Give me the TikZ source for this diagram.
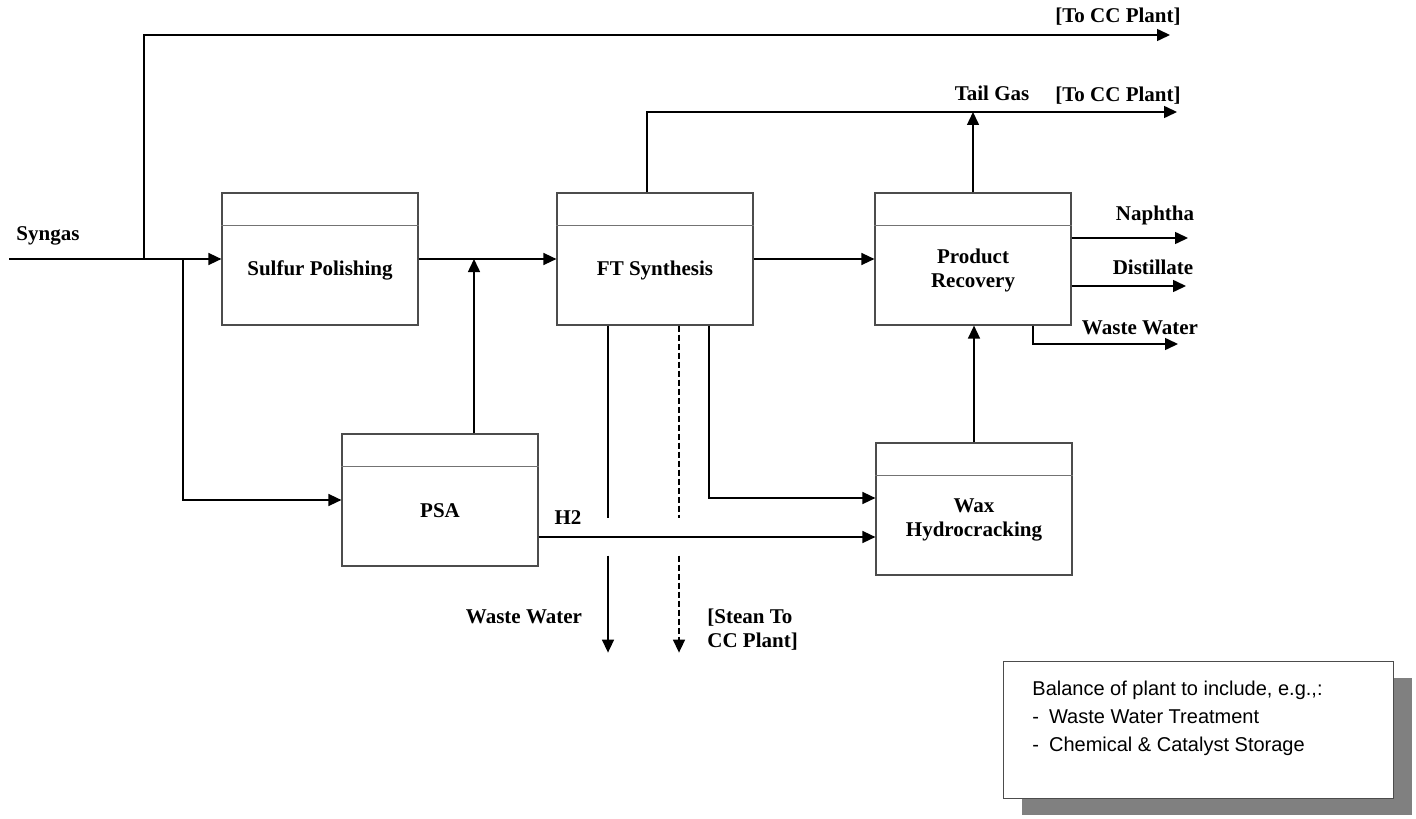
\documentclass[tikz,border=0pt]{standalone}
\usepackage{fontspec}
\setmainfont{Liberation Serif}
\newfontfamily\arialfont{Liberation Sans}
\usetikzlibrary{arrows.meta,shadows}

\begin{document}
\begin{tikzpicture}[x=0.5pt,y=-0.5pt,
    unit/.style={draw=black!70,line width=0.6pt,minimum width=98pt,minimum height=66pt,
      append after command={([yshift=-16.5pt]\tikzlastnode.north west) edge[draw=black!55,line width=0.6pt] ([yshift=-16.5pt]\tikzlastnode.north east)}},
    unittext/.style={font=\fontsize{10.5}{12}\selectfont\bfseries,align=center,yshift=-5.5pt},
    lbl/.style={font=\fontsize{10.5}{12}\selectfont\bfseries,inner sep=0pt},
    pipe/.style={line width=0.75pt},
    flow/.style={pipe,-{Triangle[length=6.5pt,width=6pt]}}]
  \useasboundingbox (0,0) rectangle (1416,818);

  % process units
  \node[unit,label={[unittext]center:Sulfur Polishing}] (sulfur) at (320,259) {};
  \node[unit,label={[unittext]center:FT Synthesis}] (ft) at (655,259) {};
  \node[unit,label={[unittext]center:Product\\Recovery}] (recovery) at (973,259) {};
  \node[unit,label={[unittext]center:PSA}] (psa) at (440,500) {};
  \node[unit,label={[unittext]center:Wax\\Hydrocracking}] (wax) at (974,509) {};

  % free ends
  \coordinate (feed) at (9,259);
  \coordinate (bypass) at (144,259);
  \coordinate (split) at (183,259);
  \coordinate (topcc) at (1170,35);
  \coordinate (tailcc) at (1177,112);
  \coordinate (naphtha) at (1188,238);
  \coordinate (distillate) at (1186,286);
  \coordinate (prwater) at (1178,344);

  % syngas feed
  \draw[pipe] (feed) -- (bypass);
  \draw[flow] (bypass) -- (sulfur.west);
  \draw[flow] (bypass) |- (topcc);
  \draw[flow] (split) |- (psa.west);
  \draw[flow] (sulfur.east) -- (ft.west);
  \draw[flow] (psa.north) ++(34,0) coordinate (h2up) -- (h2up |- sulfur.east);

  % ft synthesis and products
  \draw[flow] (ft.east) -- (recovery.west);
  \draw[flow] ([xshift=-4pt]ft.north) |- (tailcc);
  \draw[flow] (recovery.north) -- (recovery.north |- tailcc);
  \draw[flow] (recovery.east |- naphtha) -- (naphtha);
  \draw[flow] (recovery.east |- distillate) -- (distillate);
  \draw[flow] ([xshift=30pt]recovery.south) |- (prwater);
  \draw[flow] (wax.north) -- (wax.north |- recovery.south);

  % ft bottom streams
  \draw[pipe] ([xshift=-23.5pt]ft.south) -- ++(0,192);
  \draw[flow] ([xshift=-23.5pt]ft.south) ++(0,230) -- ++(0,97);
  \draw[pipe,dash pattern=on 3pt off 1.5pt] ([xshift=12pt]ft.south) -- ++(0,192);
  \draw[flow,dash pattern=on 3pt off 1.5pt] ([xshift=12pt]ft.south) ++(0,230) -- ++(0,97);
  \draw[flow] ([xshift=27pt]ft.south) |- ([yshift=5.5pt]wax.west);
  \draw[flow] ([yshift=-18.5pt]psa.east) coordinate (h2) -- (h2 -| wax.west);

  % stream labels
  \node[lbl] (syngas) at (48,236) {Syngas};
  \node[lbl] (cc1) at (1118,17) {[To CC Plant]};
  \node[lbl] (cc2) at (1118,96) {[To CC Plant]};
  \node[lbl] (tailgas) at (992,93) {Tail Gas};
  \node[lbl] (naphthalbl) at (1155,215) {Naphtha};
  \node[lbl] (distlbl) at (1153,267) {Distillate};
  \node[lbl] (prwaterlbl) at (1140,328) {Waste Water};
  \node[lbl] (h2lbl) at (568,518) {H2};
  \node[lbl] (ftwaterlbl) at (524,617) {Waste Water};
  \node[lbl,align=left,anchor=west] (steamlbl) at (707,630) {[Stean To\\CC Plant]};

  % balance of plant note
  \node[draw=black!70,fill=white,minimum width=195pt,minimum height=68.5pt,
    drop shadow={shadow xshift=9.5pt,shadow yshift=-8.5pt,fill=black!50,opacity=1}] (balance) at (1198,729.5) {};
  \node[font=\arialfont\fontsize{10}{14}\selectfont,align=left,anchor=west,inner sep=0pt] (balancetxt) at (1032,718)
    {Balance of plant to include, e.g.,:\\-\hspace{5pt}Waste Water Treatment\\-\hspace{5pt}Chemical \& Catalyst Storage};
\end{tikzpicture}
\end{document}
